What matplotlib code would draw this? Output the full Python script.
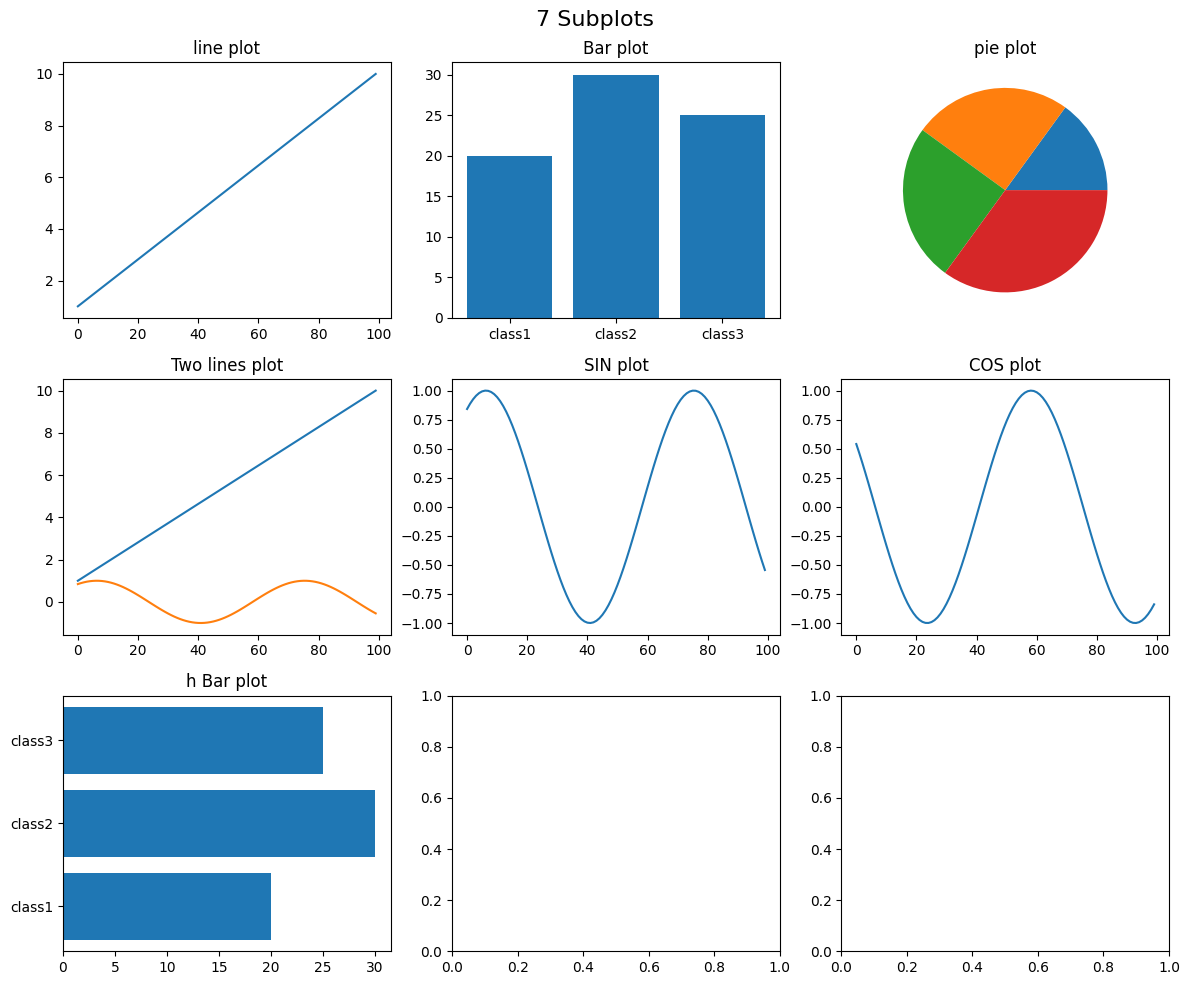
import numpy as np
import matplotlib
matplotlib.use("Agg")
import matplotlib.pyplot as plt

# data
line_y = np.linspace(1, 10, 100)
sin_y = np.sin(line_y)
cos_y = np.cos(line_y)
classes = ["class1", "class2", "class3"]
class_values = [20, 30, 25]
pie_values = [15, 25, 25, 35]

fig, axes = plt.subplots(3, 3, figsize=(12, 10), dpi=100)
fig.suptitle("7 Subplots", fontsize=16)

ax = axes[0, 0]
ax.plot(line_y)
ax.set_title("line plot")

ax = axes[0, 1]
ax.bar(classes, class_values)
ax.set_title("Bar plot")

ax = axes[0, 2]
ax.pie(pie_values)
ax.set_title("pie plot")

ax = axes[1, 0]
ax.plot(line_y)
ax.plot(sin_y)
ax.set_title("Two lines plot")

ax = axes[1, 1]
ax.plot(sin_y)
ax.set_title("SIN plot")

ax = axes[1, 2]
ax.plot(cos_y)
ax.set_title("COS plot")

ax = axes[2, 0]
ax.barh(classes, class_values)
ax.set_title("h Bar plot")

fig.tight_layout()
fig.savefig("out.png", dpi=100, bbox_inches="tight")
